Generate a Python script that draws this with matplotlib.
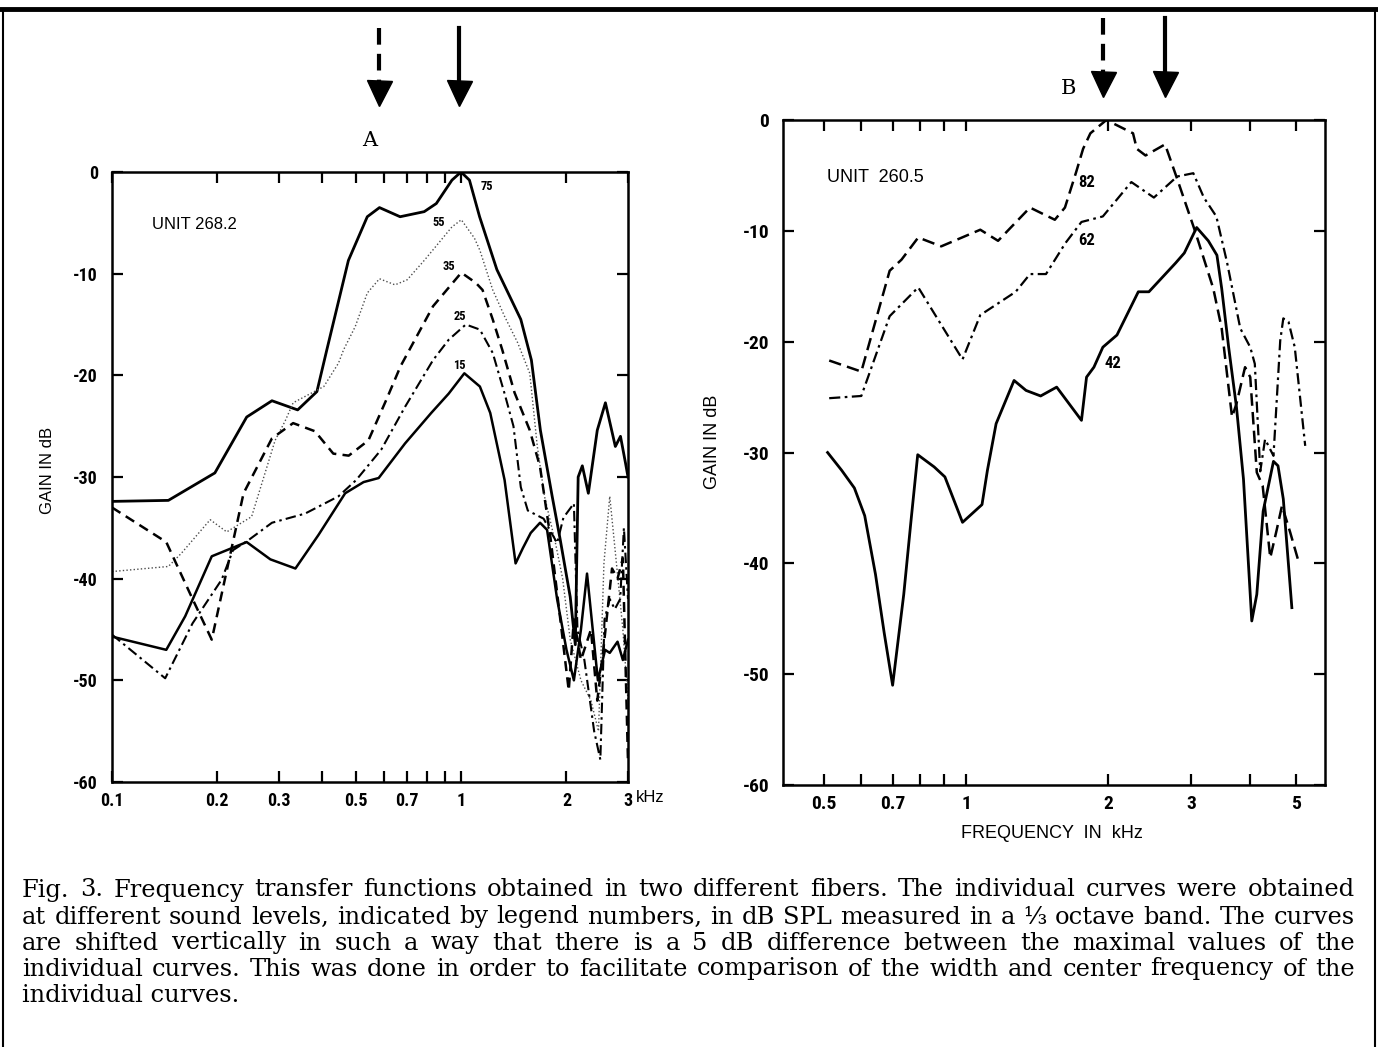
import numpy as np
import matplotlib
matplotlib.use("Agg")
import matplotlib.pyplot as plt
from matplotlib import transforms
from matplotlib.lines import Line2D
from matplotlib.ticker import FixedLocator, FixedFormatter, NullFormatter
from matplotlib import font_manager

plt.rcParams['axes.unicode_minus'] = False

# ---- panel A, unit 268.2 (freq in kHz, gain in dB) ----
f75 = [0.1, 0.145, 0.197, 0.243, 0.287, 0.34, 0.386, 0.412, 0.475, 0.538, 0.583, 0.668,
       0.783, 0.848, 0.94, 0.998, 1.055, 1.128, 1.264, 1.48, 1.587, 1.684, 1.82, 1.92,
       2.05, 2.12, 2.16, 2.22, 2.31, 2.45, 2.585, 2.76, 2.855, 2.95, 3.0]
g75 = [-32.4, -32.3, -29.6, -24.1, -22.5, -23.4, -21.6, -17.5, -8.7, -4.4, -3.5, -4.4,
       -3.9, -3.1, -0.8, 0.0, -0.8, -4.4, -9.6, -14.5, -18.5, -25.4, -31.9, -36.2,
       -41.8, -46.5, -30.0, -28.9, -31.6, -25.4, -22.7, -27.0, -26.0, -28.6, -30.0]

f55 = [0.1, 0.145, 0.158, 0.191, 0.213, 0.251, 0.28, 0.293, 0.313, 0.33, 0.404, 0.445,
       0.46, 0.497, 0.538, 0.583, 0.646, 0.7, 0.783, 0.837, 0.94, 1.0, 1.09, 1.13, 1.23,
       1.33, 1.45, 1.57, 1.65, 1.73, 1.86, 1.95, 2.05, 2.2, 2.35, 2.47, 2.56, 2.66, 2.78,
       2.9, 3.0]
g55 = [-39.3, -38.8, -37.5, -34.2, -35.4, -33.9, -28.6, -26.4, -24.5, -22.7, -21.1, -18.8,
       -17.5, -15.2, -11.9, -10.5, -11.1, -10.6, -8.7, -7.5, -5.4, -4.7, -6.5, -7.7, -11.6,
       -14.2, -16.8, -19.8, -27.0, -31.9, -36.5, -40.0, -46.0, -50.0, -52.0, -55.0, -38.5,
       -31.9, -38.5, -45.0, -52.0]

f35 = [0.1, 0.143, 0.169, 0.193, 0.238, 0.287, 0.33, 0.381, 0.43, 0.476, 0.542, 0.61,
       0.67, 0.83, 1.0, 1.1, 1.15, 1.23, 1.31, 1.42, 1.57, 1.68, 1.8, 1.92, 2.03, 2.1,
       2.2, 2.35, 2.45, 2.55, 2.7, 2.8, 2.9, 3.0]
g35 = [-33.0, -36.4, -41.8, -46.0, -31.6, -26.2, -24.7, -25.5, -27.7, -27.9, -26.4, -22.4,
       -19.1, -13.2, -9.9, -10.9, -11.6, -14.5, -17.5, -21.7, -25.4, -29.0, -36.0, -44.0,
       -51.0, -44.0, -48.0, -45.0, -52.0, -47.0, -39.0, -40.0, -38.0, -58.0]

f25 = [0.1, 0.142, 0.17, 0.206, 0.222, 0.246, 0.287, 0.357, 0.445, 0.5, 0.59, 0.69,
       0.83, 0.92, 1.03, 1.13, 1.23, 1.33, 1.41, 1.48, 1.55, 1.72, 1.88, 1.96, 2.1,
       2.15, 2.25, 2.4, 2.5, 2.57, 2.66, 2.75, 2.85, 2.92, 3.0]
g25 = [-45.5, -49.8, -44.4, -40.1, -37.2, -36.2, -34.5, -33.6, -31.9, -30.3, -27.3, -23.1,
       -18.5, -16.5, -15.0, -15.5, -17.8, -21.8, -25.0, -31.0, -33.3, -34.1, -36.5, -34.0,
       -32.6, -45.0, -48.0, -55.0, -57.8, -44.0, -42.0, -43.0, -42.0, -35.0, -42.0]

f15 = [0.1, 0.143, 0.162, 0.193, 0.213, 0.243, 0.284, 0.335, 0.39, 0.465, 0.525, 0.58,
       0.69, 0.82, 0.92, 1.02, 1.13, 1.21, 1.33, 1.43, 1.5, 1.58, 1.68, 1.76, 1.88, 2.0,
       2.1, 2.2, 2.29, 2.46, 2.58, 2.66, 2.8, 2.9, 3.0]
g15 = [-45.7, -47.0, -43.7, -37.8, -37.2, -36.4, -38.1, -39.0, -35.7, -31.6, -30.5, -30.1,
       -26.7, -23.7, -21.8, -19.8, -21.1, -23.7, -30.3, -38.5, -37.0, -35.5, -34.5, -35.2,
       -42.0, -47.0, -50.0, -45.0, -39.5, -50.0, -47.0, -47.3, -46.2, -48.0, -46.0]

# ---- panel B, unit 260.5 ----
f82 = [0.513, 0.6, 0.689, 0.73, 0.792, 0.886, 1.072, 1.169, 1.366, 1.542, 1.62, 1.711,
       1.77, 1.834, 1.983, 2.258, 2.3, 2.4, 2.64, 2.8, 3.06, 3.34, 3.48, 3.66, 3.74, 3.9,
       4.0, 4.13, 4.25, 4.41, 4.55, 4.67, 4.86, 5.06]
g82 = [-21.7, -22.7, -13.6, -12.6, -10.6, -11.4, -9.9, -10.9, -7.9, -9.0, -7.9, -4.7,
       -2.6, -1.2, 0.0, -1.2, -2.6, -3.2, -2.2, -5.3, -10.1, -15.2, -18.8, -26.8, -25.6,
       -22.3, -23.2, -31.8, -33.0, -39.5, -37.0, -34.8, -37.2, -39.8]

f62 = [0.513, 0.6, 0.62, 0.689, 0.792, 0.983, 1.072, 1.274, 1.366, 1.477, 1.624, 1.756,
       1.949, 2.24, 2.5, 2.8, 3.03, 3.19, 3.39, 3.57, 3.81, 4.0, 4.09, 4.2, 4.3, 4.48,
       4.63, 4.7, 4.82, 4.97, 5.23]
g62 = [-25.1, -24.9, -23.2, -17.7, -15.1, -21.6, -17.6, -15.5, -13.9, -13.9, -11.1, -9.2,
       -8.7, -5.6, -7.0, -5.1, -4.8, -7.0, -8.7, -12.8, -18.8, -20.5, -22.0, -31.7, -28.8,
       -30.3, -19.9, -17.9, -18.2, -20.5, -29.4]

f42 = [0.509, 0.545, 0.58, 0.61, 0.643, 0.671, 0.699, 0.738, 0.764, 0.79, 0.856, 0.902,
       0.983, 1.081, 1.11, 1.158, 1.264, 1.34, 1.439, 1.556, 1.756, 1.8, 1.866, 1.949,
       2.088, 2.317, 2.44, 2.78, 2.9, 3.08, 3.26, 3.4, 3.48, 3.6, 3.74, 3.87, 4.03, 4.13,
       4.26, 4.48, 4.58, 4.7, 4.9]
g42 = [-30.0, -31.6, -33.2, -35.7, -41.0, -46.3, -51.0, -42.8, -36.3, -30.2, -31.3, -32.2,
       -36.3, -34.7, -31.6, -27.4, -23.5, -24.4, -24.9, -24.1, -27.1, -23.2, -22.3, -20.5,
       -19.4, -15.5, -15.5, -12.9, -12.0, -9.7, -10.9, -12.2, -15.2, -20.5, -25.9, -32.4,
       -45.2, -42.8, -35.3, -30.8, -31.2, -34.2, -44.0]

# curve labels (sound level, position)
labelsA = ['75', '55', '35', '25', '15']
labelA_pos = [(1.18, -1.4), (0.86, -5.0), (0.92, -9.3), (0.99, -14.2), (0.99, -19.0)]
labelsB = ['82', '62', '42']
labelB_pos = [(1.8, -5.6), (1.8, -10.9), (2.05, -22.0)]

ticksA = [0.1, 0.2, 0.3, 0.5, 0.7, 1, 2, 3]
ticklabA = ['0.1', '0.2', '0.3', '0.5', '0.7', '1', '2', '3']
minorA = [0.4, 0.6, 0.8, 0.9]
ticksB = [0.5, 0.7, 1, 2, 3, 5]
ticklabB = ['0.5', '0.7', '1', '2', '3', '5']
minorB = [0.6, 0.8, 0.9, 4]
yticks = [0, -10, -20, -30, -40, -50, -60]

# arrows: dashed and solid, frequency in kHz
arrowsA = [0.582, 0.987]
arrowsB = [1.95, 2.64]

caption = [
    "Fig. 3. Frequency transfer functions obtained in two different fibers. The individual curves were obtained",
    "at different sound levels, indicated by legend numbers, in dB SPL measured in a \u2153 octave band. The curves",
    "are shifted vertically in such a way that there is a 5 dB difference between the maximal values of the",
    "individual curves. This was done in order to facilitate comparison of the width and center frequency of the",
    "individual curves.",
]

W, H = 1378, 1047
fig = plt.figure(figsize=(W / 100, H / 100), dpi=100)


def fx(px):
    return px / W


def fy(py):
    return 1 - py / H


installed = {f.name for f in font_manager.fontManager.ttflist}
cond = [n for n in ['Liberation Sans Narrow', 'DejaVu Sans Condensed', 'Roboto Condensed']
        if n in installed] + ['DejaVu Sans']
sans = ['Liberation Sans', 'DejaVu Sans']

axA = fig.add_axes([fx(112), fy(782), fx(628) - fx(112), fy(172) - fy(782)])
axB = fig.add_axes([fx(783), fy(785), fx(1325) - fx(783), fy(120) - fy(785)])

axA.plot(f75, g75, color='black', ls='-', lw=2.0)
axA.plot(f55, g55, color='0.3', ls=(0, (1, 1.6)), lw=1.0)
axA.plot(f35, g35, color='black', ls=(0, (4, 2.5)), lw=1.8)
axA.plot(f25, g25, color='black', ls=(0, (5, 2, 1.2, 2)), lw=1.5)
axA.plot(f15, g15, color='black', ls='-', lw=1.8)

axB.plot(f82, g82, color='black', ls=(0, (5, 2.5)), lw=1.8)
axB.plot(f62, g62, color='black', ls=(0, (5, 2, 1.2, 2)), lw=1.6)
axB.plot(f42, g42, color='black', ls='-', lw=2.0)

for lab, (x, y) in zip(labelsA, labelA_pos):
    axA.text(x, y, lab, fontsize=9, family=cond, stretch='condensed', weight='bold',
             ha='center', va='center')
for lab, (x, y) in zip(labelsB, labelB_pos):
    axB.text(x, y, lab, fontsize=12, family=cond, stretch='condensed', weight='bold',
             ha='center', va='center')

for ax, ticks, labs, minor, xlim, fs in [(axA, ticksA, ticklabA, minorA, (0.1, 3.0), 13),
                                         (axB, ticksB, ticklabB, minorB, (0.4095, 5.76), 14)]:
    ax.set_xscale('log')
    ax.set_xlim(*xlim)
    ax.set_ylim(-60, 0)
    ax.xaxis.set_major_locator(FixedLocator(ticks))
    ax.xaxis.set_major_formatter(FixedFormatter(labs))
    ax.xaxis.set_minor_locator(FixedLocator(minor))
    ax.xaxis.set_minor_formatter(NullFormatter())
    ax.set_yticks(yticks)
    ax.set_yticklabels([str(v) for v in yticks])
    ax.tick_params(which='both', direction='in', top=True, right=True, length=8, width=1.6)
    ax.tick_params(axis='x', pad=7)
    ax.tick_params(axis='y', pad=10)
    for s in ax.spines.values():
        s.set_linewidth(1.8)
    for t in ax.get_xticklabels() + ax.get_yticklabels():
        t.set_family(cond)
        t.set_stretch('condensed')
        t.set_weight('bold')
        t.set_fontsize(fs)

# "3 kHz" on panel A
axA.annotate('kHz', xy=(3.0, 0), xycoords=('data', 'axes fraction'), xytext=(6, -6),
             textcoords='offset points', ha='left', va='top', fontsize=12, family=sans)

axA.text(0.13, -5.2, 'UNIT 268.2', fontsize=12, family=sans, va='center')
axB.text(0.508, -5.2, 'UNIT  260.5', fontsize=13, family=sans, va='center')

fig.text(fx(48), fy(470), 'GAIN IN dB', rotation=90, fontsize=12, family=sans, ha='center', va='center')
fig.text(fx(712), fy(442), 'GAIN IN dB', rotation=90, fontsize=13, family=sans, ha='center', va='center')
fig.text(fx(1052), fy(834), 'FREQUENCY  IN  kHz', fontsize=13, family=sans, ha='center', va='center')

fig.text(fx(370), fy(140), 'A', fontsize=15, family='DejaVu Serif', ha='center', va='center')
fig.text(fx(1068), fy(88), 'B', fontsize=15, family='DejaVu Serif', ha='center', va='center')


def draw_arrows(ax, xs, top, shaft_end, head_mid):
    tr = transforms.blended_transform_factory(ax.transData, fig.transFigure)
    for i, x in enumerate(xs):
        ls = (0, (4, 2.2)) if i == 0 else '-'
        ax.plot([x, x], [fy(top), fy(shaft_end)], transform=tr, color='black', lw=3,
                ls=ls, clip_on=False)
        ax.plot([x], [fy(head_mid)], transform=tr, marker='v', markersize=18,
                color='black', clip_on=False)


draw_arrows(axA, arrowsA, 28, 82, 93)
draw_arrows(axB, arrowsB, 18, 72, 84)

# frame
fig.add_artist(Line2D([0, 1], [fy(9), fy(9)], color='black', lw=3.5))
fig.add_artist(Line2D([fx(3), fx(3)], [0, fy(9)], color='black', lw=1.5))
fig.add_artist(Line2D([fx(1375), fx(1375)], [0, fy(9)], color='black', lw=1.5))

# caption, justified to the width of the first line
renderer = fig.canvas.get_renderer()
left, right = 22, 1355
probe = fig.text(0, 0, caption[0], fontsize=14, family='DejaVu Serif')
w0 = probe.get_window_extent(renderer).width
probe.remove()
csize = 14 * (right - left) / w0 * 0.975
rows = [890, 917, 943, 969, 996]
for line, py in zip(caption, rows):
    words = line.split(' ')
    if line is caption[-1]:
        fig.text(fx(left), fy(py), line, fontsize=csize, family='DejaVu Serif', va='center')
        continue
    texts = [fig.text(0, fy(py), w, fontsize=csize, family='DejaVu Serif', va='center')
             for w in words]
    widths = [t.get_window_extent(renderer).width for t in texts]
    gap = (right - left - sum(widths)) / (len(words) - 1)
    x = left
    for t, w in zip(texts, widths):
        t.set_x(fx(x))
        x += w + gap

fig.savefig('out.png', dpi=100)
